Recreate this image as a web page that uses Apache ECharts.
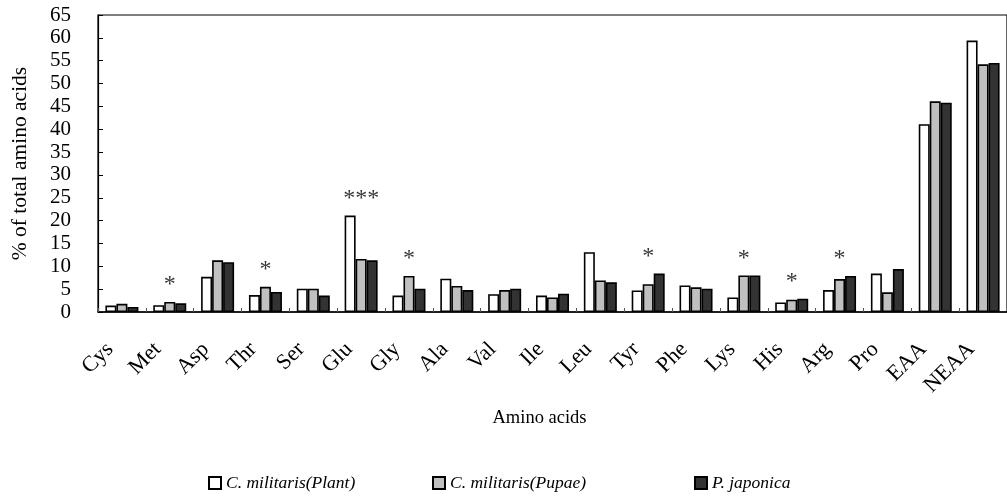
<!DOCTYPE html>
<html>
<head>
<meta charset="utf-8">
<script src="https://cdn.jsdelivr.net/npm/echarts@6/dist/echarts.min.js"></script>
<style>
  html, body { margin: 0; padding: 0; background: #fff; }
  #chart { width: 1007px; height: 497px; }
</style>
</head>
<body>
<div id="chart"></div>
<script>
// Amino acid composition (% of total amino acids)
const categories = ['Cys', 'Met', 'Asp', 'Thr', 'Ser', 'Glu', 'Gly', 'Ala', 'Val', 'Ile',
  'Leu', 'Tyr', 'Phe', 'Lys', 'His', 'Arg', 'Pro', 'EAA', 'NEAA'];
const plant = [1.4, 1.5, 7.7, 3.7, 5.1, 21.1, 3.6, 7.3, 3.9, 3.6, 13.1, 4.7, 5.8, 3.2, 2.1, 4.8, 8.4, 41.1, 59.4];
const pupae = [1.8, 2.2, 11.3, 5.5, 5.1, 11.6, 7.9, 5.7, 4.8, 3.2, 6.9, 6.1, 5.4, 8.0, 2.7, 7.2, 4.3, 46.1, 54.2];
const japonica = [1.1, 1.9, 10.9, 4.4, 3.6, 11.3, 5.1, 4.8, 5.1, 4.0, 6.5, 8.4, 5.1, 8.0, 2.9, 7.9, 9.4, 45.8, 54.5];
const significance = ['', '*', '', '*', '', '***', '*', '', '', '', '', '*', '', '*', '*', '*', '', '', ''];
const seriesNames = ['C. militaris(Plant)', 'C. militaris(Pupae)', 'P. japonica'];
const yTicks = { min: 0, max: 65, interval: 5 };

const FONT = '"Liberation Serif", "Times New Roman", serif';

// Height of the tallest bar in each group, used to place significance marks
const groupMax = categories.map((c, i) => Math.max(plant[i], pupae[i], japonica[i]));

const barStyle = (fill) => ({ color: fill, borderColor: '#000', borderWidth: 1.6 });

// One legend block per series so each entry sits at its own position
const legendLefts = [203, 427, 689];
const legends = seriesNames.map((name, i) => ({
  data: [name],
  left: legendLefts[i],
  top: 469,
  icon: 'rect',
  itemWidth: 12,
  itemHeight: 12,
  textStyle: { fontFamily: FONT, fontSize: 17.5, fontStyle: 'italic', color: '#000' }
}));

const chart = echarts.init(document.getElementById('chart'), null, { renderer: 'canvas' });
chart.setOption({
  animation: false,
  backgroundColor: '#fff',
  grid: {
    left: 98, top: 15, width: 917, height: 297,
    show: true, borderColor: '#000', borderWidth: 1.2, backgroundColor: 'transparent'
  },
  legend: legends,
  xAxis: {
    type: 'category',
    data: categories,
    name: 'Amino acids',
    nameLocation: 'middle',
    nameGap: 97,
    nameMoveOverlap: false,
    nameTextStyle: { fontFamily: FONT, fontSize: 18.5, color: '#000', padding: [0, 26, 0, 0] },
    axisLine: { lineStyle: { color: '#000', width: 1.5 } },
    axisTick: { show: true, inside: true, length: 4, alignWithLabel: false, lineStyle: { color: '#555' } },
    axisLabel: {
      rotate: 45, margin: 22, padding: [0, 17, 0, 0],
      fontFamily: FONT, fontSize: 22, color: '#000', interval: 0
    }
  },
  yAxis: {
    type: 'value',
    min: yTicks.min, max: yTicks.max, interval: yTicks.interval,
    name: '% of total amino acids',
    nameLocation: 'middle',
    nameGap: 67,
    nameMoveOverlap: false,
    nameTextStyle: { fontFamily: FONT, fontSize: 21.5, color: '#000' },
    splitLine: { show: false },
    axisLine: { show: true, lineStyle: { color: '#000', width: 1.2 } },
    axisTick: { show: true, inside: true, length: 5, lineStyle: { color: '#000' } },
    axisLabel: { margin: 27, fontFamily: FONT, fontSize: 21, color: '#000' }
  },
  series: [
    { name: seriesNames[0], type: 'bar', data: plant, barWidth: 11, barGap: '0%', itemStyle: barStyle('#ffffff') },
    { name: seriesNames[1], type: 'bar', data: pupae, barWidth: 11, barGap: '0%', itemStyle: barStyle('#c0c0c0') },
    { name: seriesNames[2], type: 'bar', data: japonica, barWidth: 11, barGap: '0%', itemStyle: barStyle('#333333') },
    {
      name: 'significance', type: 'scatter', data: groupMax, symbolSize: 0, silent: true,
      label: {
        show: true, position: 'top', distance: 5,
        formatter: (p) => significance[p.dataIndex],
        fontFamily: FONT, fontSize: 24, color: '#000'
      }
    }
  ]
});
</script>
</body>
</html>
